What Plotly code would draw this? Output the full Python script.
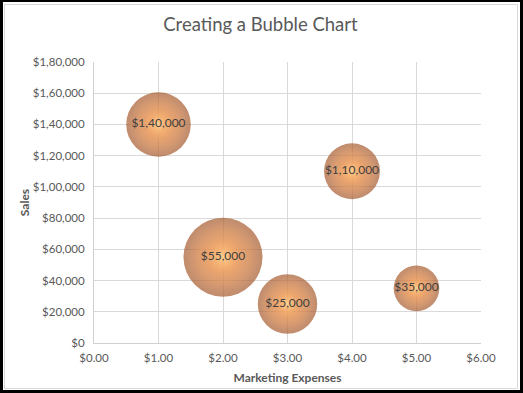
import plotly.graph_objects as go

# ---- data ----
marketing_expenses = [1, 2, 3, 4, 5]
sales = [140000, 55000, 25000, 110000, 35000]
bubble_size = [20, 30, 17, 15, 10]
data_labels = ["$1,40,000", "$55,000", "$25,000", "$1,10,000", "$35,000"]

y_tick_vals = [0, 20000, 40000, 60000, 80000, 100000, 120000, 140000, 160000, 180000]
y_tick_text = ["$0", "$20,000", "$40,000", "$60,000", "$80,000", "$1,00,000",
               "$1,20,000", "$1,40,000", "$1,60,000", "$1,80,000"]
x_tick_vals = [0, 1, 2, 3, 4, 5, 6]

W, H = 523, 393
L, R, T, B = 94, 42, 62, 50
max_d = 79
sizeref = 2.0 * max(bubble_size) / (max_d ** 2)

FONT = "Lato, 'Open Sans', sans-serif"
GREY = "#595959"

fig = go.Figure()

# bubble body
fig.add_trace(go.Scatter(
    x=marketing_expenses, y=sales, mode="markers",
    marker=dict(size=bubble_size, sizemode="area", sizeref=sizeref,
                color="#A55A2E",
                gradient=dict(type="radial", color="#F59C55"),
                line=dict(width=0)),
    hoverinfo="skip", showlegend=False,
))
# inner body
fig.add_trace(go.Scatter(
    x=marketing_expenses, y=sales, mode="markers",
    marker=dict(size=bubble_size, sizemode="area", sizeref=sizeref / 0.8,
                color="rgba(243,155,85,0)",
                gradient=dict(type="radial", color="rgba(246,160,90,1)"),
                line=dict(width=0)),
    hoverinfo="skip", showlegend=False,
))
# highlight
fig.add_trace(go.Scatter(
    x=marketing_expenses, y=sales, mode="markers",
    marker=dict(size=bubble_size, sizemode="area", sizeref=sizeref / 0.22,
                color="rgba(248,168,98,0)",
                gradient=dict(type="radial", color="rgba(255,230,165,0.95)"),
                line=dict(width=0)),
    hoverinfo="skip", showlegend=False,
))
# labels
fig.add_trace(go.Scatter(
    x=marketing_expenses, y=sales, mode="text", text=data_labels,
    textposition="middle center",
    textfont=dict(family=FONT, size=12, color="#404040"),
    hoverinfo="skip", showlegend=False,
))

fig.update_layout(
    width=W, height=H,
    margin=dict(l=L, r=R, t=T, b=B),
    paper_bgcolor="white", plot_bgcolor="white",
    title=dict(text="Creating a Bubble Chart", x=0.498, xref="container",
               y=1 - 25 / H, yref="container", xanchor="center", yanchor="middle",
               font=dict(family=FONT, size=18.5, color=GREY)),
    font=dict(family=FONT, color=GREY, size=12),
    xaxis=dict(range=[0, 6], tickvals=x_tick_vals, tickformat="$.2f",
               showgrid=True, gridcolor="#D9D9D9", gridwidth=1,
               zeroline=False, showline=True, linecolor="#D0D0D0", linewidth=1,
               ticks="", ticklabelstandoff=4,
               tickfont=dict(family=FONT, size=11.5, color=GREY),
               title=dict(text="<b>Marketing Expenses</b>", standoff=10,
                          font=dict(family=FONT, size=12, color=GREY))),
    yaxis=dict(range=[0, 180000], tickvals=y_tick_vals, ticktext=y_tick_text,
               showgrid=True, gridcolor="#D9D9D9", gridwidth=1,
               zeroline=False, showline=True, linecolor="#D0D0D0", linewidth=1,
               ticks="", ticklabelstandoff=6,
               tickfont=dict(family=FONT, size=11.5, color=GREY),
               title=dict(text="<b>Sales</b>", standoff=0,
                          font=dict(family=FONT, size=12, color=GREY))),
    shapes=[
        # inner light grey chart border
        dict(type="rect", xref="paper", yref="paper",
             x0=(4.5 - L) / (W - L - R), x1=(517.5 - L) / (W - L - R),
             y0=(H - B - 388.5) / (H - T - B), y1=(H - B - 4.5) / (H - T - B),
             line=dict(color="#D9D9D9", width=1), fillcolor="rgba(0,0,0,0)", layer="below"),
        # outer black frame
        dict(type="rect", xref="paper", yref="paper",
             x0=(1.5 - L) / (W - L - R), x1=(521.5 - L) / (W - L - R),
             y0=(H - B - 391.5) / (H - T - B), y1=(H - B - 0.5) / (H - T - B),
             line=dict(color="black", width=3), fillcolor="rgba(0,0,0,0)", layer="below"),
    ],
)

fig.write_html("out.html", config={"displayModeBar": False},
               post_script="document.body.style.margin='0';document.body.style.padding='0';")
